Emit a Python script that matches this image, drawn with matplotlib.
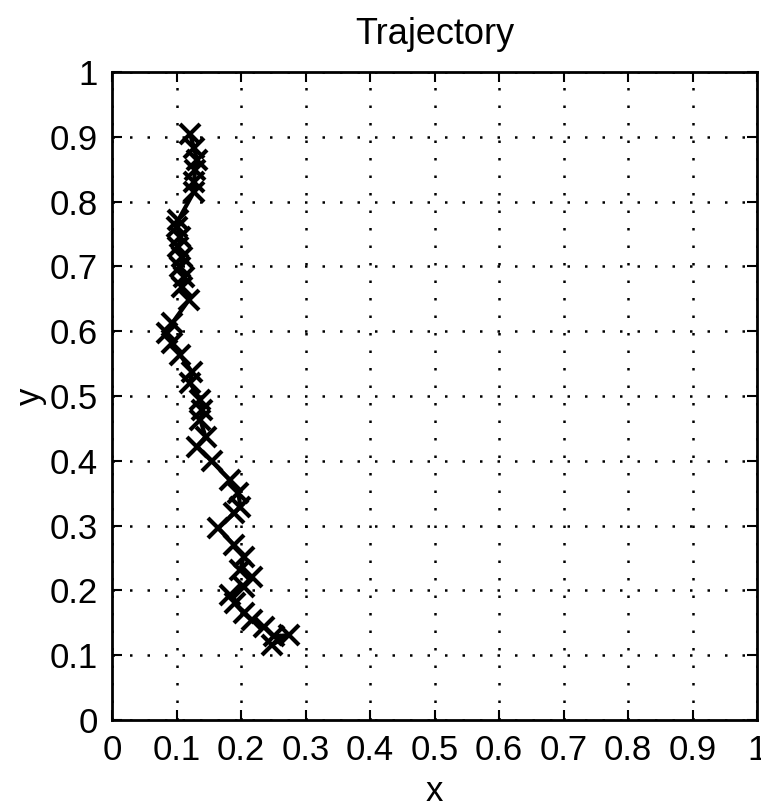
import matplotlib
matplotlib.use("Agg")
import matplotlib.pyplot as plt

# trajectory points
traj_x = [0.121, 0.127, 0.132, 0.129, 0.127, 0.127, 0.103, 0.101, 0.106, 0.103,
          0.109, 0.106, 0.111, 0.109, 0.119, 0.093, 0.085, 0.093, 0.106, 0.124,
          0.121, 0.137, 0.140, 0.137, 0.145, 0.132, 0.155, 0.183, 0.196, 0.199,
          0.189, 0.165, 0.189, 0.204, 0.199, 0.217, 0.204, 0.183, 0.191, 0.204,
          0.217, 0.235, 0.251, 0.274, 0.248]
traj_y = [0.905, 0.883, 0.864, 0.849, 0.831, 0.815, 0.772, 0.761, 0.746, 0.730,
          0.715, 0.699, 0.684, 0.668, 0.648, 0.612, 0.597, 0.582, 0.563, 0.537,
          0.520, 0.494, 0.478, 0.463, 0.437, 0.422, 0.399, 0.370, 0.350, 0.329,
          0.319, 0.296, 0.270, 0.252, 0.231, 0.221, 0.206, 0.193, 0.180, 0.165,
          0.154, 0.144, 0.129, 0.131, 0.116]
ticks = [0, 0.1, 0.2, 0.3, 0.4, 0.5, 0.6, 0.7, 0.8, 0.9, 1]
tick_labels = ["0", "0.1", "0.2", "0.3", "0.4", "0.5", "0.6", "0.7", "0.8", "0.9", "1"]


def main():
    plt.rcParams["font.family"] = ["Liberation Sans", "DejaVu Sans"]
    fig = plt.figure(figsize=(7.61, 8.08), dpi=100)
    ax = fig.add_axes([112 / 761, 1 - 720 / 808, 645 / 761, 648 / 808])

    ax.plot(traj_x, traj_y, color="black", linewidth=3, marker="x",
            markersize=15, markeredgewidth=3)

    ax.set_xlim(0, 1)
    ax.set_ylim(0, 1)
    ax.set_xticks(ticks)
    ax.set_yticks(ticks)
    ax.set_xticklabels(tick_labels)
    ax.set_yticklabels(tick_labels)
    ax.tick_params(direction="in", length=7, width=1.5, top=True, right=True,
                   labelsize=25, pad=10, colors="black")
    ax.grid(True, color="black", linestyle=(0, (1, 6)), linewidth=1.8)
    for sp in ax.spines.values():
        sp.set_linewidth(2)

    ax.set_title("Trajectory", fontsize=26, pad=20)
    ax.set_xlabel("x", fontsize=25, labelpad=6)
    ax.set_ylabel("y", fontsize=25, labelpad=2)

    fig.savefig("out.png", dpi=100)


if __name__ == "__main__":
    main()
